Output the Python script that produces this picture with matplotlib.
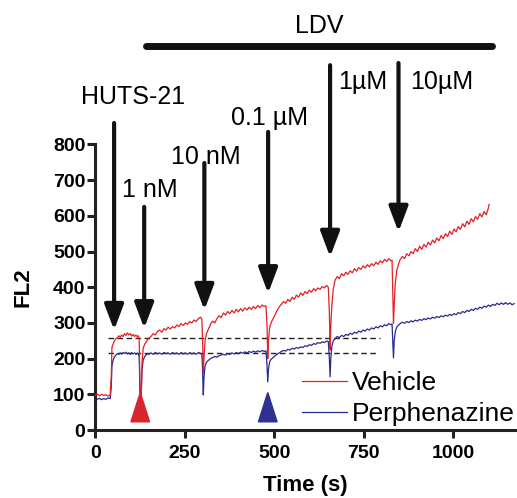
import numpy as np
import matplotlib
matplotlib.use("Agg")
import matplotlib.pyplot as plt
from matplotlib.patches import Polygon

plt.rcParams['font.family'] = ['Liberation Sans', 'DejaVu Sans']

# Vehicle trace (s, FL2)
veh_t = [0, 6, 12, 18, 24, 30, 36, 42, 45, 47, 50, 54, 58, 62, 66, 70, 74, 78, 82, 86, 90, 94, 98, 102, 106,
         110, 114, 118, 121, 123, 125, 127, 129, 131, 134, 138, 142, 146, 150, 156, 162, 168, 174, 180, 186,
         192, 198, 204, 210, 216, 222, 228, 234, 240, 246, 252, 258, 264, 270, 276, 282, 288, 294, 298, 300,
         302, 304, 307, 311, 316, 322, 328, 334, 340, 346, 352, 358, 364, 370, 376, 382, 388, 394, 400, 406,
         412, 418, 424, 430, 436, 442, 448, 454, 460, 466, 472, 477, 480, 482, 484, 487, 491, 496, 502, 508,
         514, 520, 526, 532, 538, 544, 550, 556, 562, 568, 574, 580, 586, 592, 598, 604, 610, 616, 622, 628,
         634, 640, 646, 651, 654, 656, 658, 661, 665, 670, 676, 682, 688, 694, 700, 706, 712, 718, 724, 730,
         736, 742, 748, 754, 760, 766, 772, 778, 784, 790, 796, 802, 808, 814, 820, 826, 829, 831, 833, 835,
         838, 842, 847, 852, 858, 864, 870, 876, 882, 888, 894, 900, 906, 912, 918, 924, 930, 936, 942, 948,
         954, 960, 966, 972, 978, 984, 990, 996, 1002, 1008, 1014, 1020, 1026, 1032, 1038, 1044, 1050, 1056,
         1062, 1068, 1074, 1080, 1086, 1092, 1098, 1100]
veh_v = [98, 101, 96, 100, 97, 99, 95, 98, 150, 232, 240, 250, 256, 258, 264, 260, 266, 262, 270, 265, 272,
         266, 270, 263, 268, 262, 266, 261, 264, 255, 140, 55, 110, 190, 228, 240, 246, 252, 258, 262, 270,
         266, 276, 280, 274, 284, 280, 288, 283, 290, 286, 294, 290, 298, 293, 300, 296, 304, 300, 308, 304,
         312, 316, 310, 250, 160, 205, 250, 270, 282, 296, 305, 300, 312, 320, 315, 328, 322, 332, 326, 335,
         328, 338, 331, 340, 333, 342, 336, 344, 338, 346, 340, 349, 343, 350, 346, 348, 290, 200, 250, 285,
         300, 310, 322, 335, 345, 352, 360, 355, 366, 360, 372, 366, 378, 372, 384, 377, 388, 382, 392, 386,
         396, 390, 398, 394, 402, 398, 405, 400, 330, 224, 290, 350, 395, 420, 430, 424, 438, 432, 442, 436,
         446, 440, 452, 445, 455, 450, 460, 454, 463, 457, 466, 460, 470, 464, 474, 468, 478, 472, 480, 474,
         476, 390, 299, 350, 410, 445, 465, 478, 486, 480, 494, 488, 500, 494, 508, 500, 515, 506, 520, 512,
         526, 518, 532, 524, 538, 530, 545, 536, 550, 542, 557, 548, 563, 555, 570, 562, 578, 569, 585, 576,
         592, 583, 598, 590, 606, 597, 612, 603, 622, 632]

# Perphenazine trace (s, FL2)
per_t = veh_t[:-1] + [1104, 1110, 1116, 1122, 1128, 1134, 1140, 1146, 1152, 1158, 1164, 1170]
per_v = [88, 86, 89, 85, 88, 86, 90, 88, 120, 180, 195, 205, 210, 214, 212, 216, 213, 217, 214, 218, 213,
         216, 212, 217, 213, 216, 212, 215, 213, 205, 110, 60, 110, 170, 195, 205, 210, 214, 212, 216, 212,
         217, 213, 216, 212, 217, 214, 216, 212, 217, 213, 216, 212, 217, 213, 216, 212, 217, 213, 216, 212,
         217, 215, 212, 170, 98, 150, 180, 190, 195, 200, 203, 206, 204, 208, 210, 212, 210, 214, 212, 216,
         213, 217, 214, 218, 215, 219, 216, 220, 217, 221, 218, 222, 219, 223, 220, 222, 180, 135, 170, 190,
         198, 202, 208, 212, 216, 220, 223, 221, 226, 224, 229, 227, 231, 229, 233, 231, 236, 234, 239, 237,
         242, 240, 245, 243, 247, 245, 249, 248, 200, 149, 200, 235, 250, 256, 262, 259, 265, 262, 268, 265,
         271, 268, 274, 271, 277, 274, 280, 277, 283, 280, 286, 283, 289, 286, 292, 289, 295, 292, 298, 295,
         297, 250, 202, 250, 275, 288, 294, 298, 302, 299, 304, 301, 306, 303, 308, 305, 310, 307, 312, 309,
         314, 311, 316, 313, 318, 315, 320, 317, 322, 319, 324, 321, 326, 323, 329, 326, 332, 329, 335, 332,
         338, 335, 341, 338, 344, 341, 347, 344, 350, 346, 352, 349, 355, 351, 356, 352, 357, 352, 356, 351, 354]

# baselines (dashed)
base_levels = [258, 215]
base_start = [37, 37]
base_end = [796, 785]

# additions: arrows (time, top, tip) and labels
arrow_t = [53, 137, 305, 483, 656, 847]
arrow_top = [860, 625, 748, 835, 1022, 1028]
arrow_tip = [280, 285, 336, 383, 485, 555]
label_text = ['HUTS-21', '1 nM', '10 nM', '0.1 µM', '1µM', '10µM']
label_x = [106, 154, 310, 486, 746, 968]
label_y = [934, 672, 765, 873, 975, 975]

tri_t = [126, 482]
tri_colors = ['#d7262b', '#2e3192']

ldv_span = [142, 1108]
ldv_y = 1075

red = '#e41f26'
blue = '#262a8c'

fig = plt.figure(figsize=(5.17, 4.98), dpi=100)
ax = fig.add_axes([0.184, 0.1365, 0.814, 0.5735])

ax.plot(veh_t, veh_v, color=red, lw=0.9, label='Vehicle', zorder=3)
ax.plot(per_t, per_v, color=blue, lw=0.9, label='Perphenazine', zorder=2)

for lvl, s, e in zip(base_levels, base_start, base_end):
    ax.plot([s, e], [lvl, lvl], color='#222222', lw=1.0, ls=(0, (4, 2.5)), zorder=1)

for t, top, tip in zip(arrow_t, arrow_top, arrow_tip):
    ax.annotate('', xy=(t, tip), xytext=(t, top), annotation_clip=False,
                arrowprops=dict(arrowstyle='-|>,head_length=0.45,head_width=0.17', lw=3,
                                color='#111111', mutation_scale=34, shrinkA=0, shrinkB=0))

for txt, x, y in zip(label_text, label_x, label_y):
    ax.text(x, y, txt, fontsize=18, ha='center', va='center', clip_on=False)

# triangles marking the two timepoints
for t, c in zip(tri_t, tri_colors):
    ax.add_patch(Polygon([[t - 26, 23], [t + 26, 23], [t, 105]], closed=True, color=c, zorder=4))

ax.plot(ldv_span, [ldv_y, ldv_y], color='#111111', lw=5, solid_capstyle='round', clip_on=False)
ax.text(np.mean(ldv_span), 1132, 'LDV', fontsize=18, ha='center', va='center', clip_on=False)

ax.set_xlim(0, 1175)
ax.set_ylim(0, 800)
ax.set_xticks([0, 250, 500, 750, 1000])
ax.set_yticks(range(0, 801, 100))
for sp in ['top', 'right']:
    ax.spines[sp].set_visible(False)
for sp in ['left', 'bottom']:
    ax.spines[sp].set_linewidth(2.2)
    ax.spines[sp].set_color('#222222')
ax.tick_params(width=2.2, length=6, color='#222222', labelsize=14, pad=1)
ax.tick_params(axis='x', pad=5)
for lab in ax.get_xticklabels() + ax.get_yticklabels():
    lab.set_fontweight('bold')

ax.set_xlabel('Time (s)', fontsize=16, fontweight='bold', labelpad=9)
ax.set_ylabel('FL2', fontsize=16, fontweight='bold', labelpad=14)

ax.legend(loc='upper left', bbox_to_anchor=(0.492, 0.205), frameon=False, fontsize=19,
          handlelength=1.7, handletextpad=0.2, labelspacing=0.25, borderpad=0, borderaxespad=0)

fig.savefig('out.png', dpi=100)
